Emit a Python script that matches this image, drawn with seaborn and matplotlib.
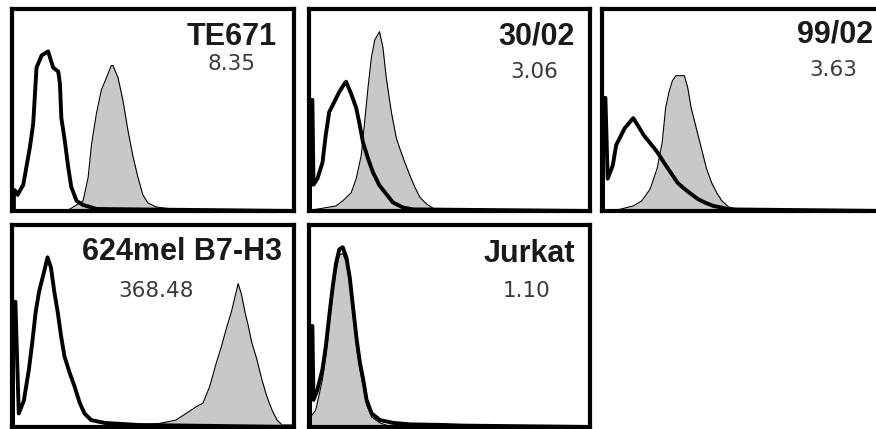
import matplotlib
matplotlib.use("Agg")
import matplotlib.pyplot as plt
import seaborn as sns

# --- DATA (x: % of log fluorescence range, y: % of max count) ---
names = ["TE671", "30/02", "99/02", "624mel B7-H3", "Jurkat"]
ratios = ["8.35", "3.06", "3.63", "368.48", "1.10"]

# isotype control (thick black outline)
te671_iso_x = [0, 1.2, 2, 4, 6.4, 7.5, 8.7, 10.5, 12.8, 14.6, 16.4, 17, 17.5, 18.7, 19.9, 21, 22.9, 25.2, 30, 100]
te671_iso_y = [11, 10, 8, 13, 32, 43, 71, 77, 79, 71, 69, 63, 46, 35, 22, 12, 5, 3, 1, 0]
p3002_iso_x = [0, 1.2, 1.6, 3, 4.8, 6, 7.2, 9, 10.8, 12.6, 13.2, 15, 16.8, 18, 19.2, 21, 22.8, 25.1, 27.5, 29.9, 33.5, 37.1, 100]
p3002_iso_y = [55, 55, 13, 16, 24, 38, 49, 54, 59, 63, 64, 58, 51, 43, 34, 26, 19, 12.6, 8.4, 4.2, 1.7, 0.8, 0]
p9902_iso_x = [0, 1.2, 2, 3.8, 5, 6.2, 8, 9.8, 11, 12.8, 14.6, 17, 19.4, 21.8, 24.2, 26.6, 29, 31.4, 33.8, 36.2, 39.2, 42.2, 44.6, 100]
p9902_iso_y = [56, 56, 16, 22.6, 32.7, 36, 41, 44, 46, 42, 37.7, 33.5, 29.3, 24, 19, 14, 11, 8.4, 5.9, 4.2, 2.5, 1.7, 0.8, 0]
mel624_iso_x = [0, 1.2, 2.4, 4.2, 6, 7.2, 8.4, 9.6, 11.4, 12.6, 13.8, 15, 16.2, 17.4, 18.6, 20.4, 22.2, 24, 25.7, 28.1, 32.9, 45, 100]
mel624_iso_y = [62, 62, 6.7, 13, 28.6, 42, 57, 67, 77, 84, 79, 67, 57, 45, 35, 27, 20, 12, 6.7, 3.4, 2, 1, 0]
jurkat_iso_x = [0, 1.2, 1.6, 3, 4.8, 6, 7.2, 8.4, 9.6, 10.8, 12, 13.3, 14.5, 15.7, 16.9, 18.1, 19.3, 20.5, 22.3, 25.3, 30.1, 36.1, 48.2, 54.2, 100]
jurkat_iso_y = [50, 50, 13.4, 18.5, 28.6, 40, 55, 69, 81, 88, 89, 84, 74, 59, 44, 32, 23.5, 13.4, 6.7, 3.4, 2, 1.3, 1, 0.7, 0]

# specific staining (grey filled)
te671_st_x = [0, 20, 25.2, 27, 28.2, 29.9, 31.7, 33.5, 35.2, 35.8, 37.6, 39.3, 41.1, 42.9, 44.6, 46.4, 48.2, 51.1, 54.7, 61.7, 100]
te671_st_y = [0, 0.5, 5, 16.6, 33, 48, 60, 66, 72, 72, 66, 55, 40, 27, 17, 8, 4, 2, 1.3, 0.5, 0]
p3002_st_x = [0, 2.4, 9.6, 12, 15, 16.8, 18.6, 19.8, 21, 22.2, 23.4, 25.1, 26.3, 27.5, 29.3, 31.1, 32.3, 34.1, 35.9, 37.7, 39.5, 41.9, 44.3, 46.7, 100]
p3002_st_y = [0, 0.8, 2.5, 5, 9, 16, 27.6, 44, 61, 76, 84.6, 88.8, 81, 66, 49, 36, 31, 24, 17.6, 11.7, 6.7, 3.4, 1.2, 0.5, 0]
p9902_st_x = [0, 6.2, 11, 14, 17, 19.4, 21.2, 22.4, 23.6, 24.8, 26, 29, 30.2, 31.4, 33.2, 35, 36.8, 38.6, 40.4, 42.2, 44.6, 48.1, 51.7, 100]
p9902_st_y = [0, 0.8, 2.5, 5, 11, 21, 34, 51, 59, 64.5, 67, 67, 61, 51, 41, 31, 21, 14, 9, 5, 2, 0.8, 0.3, 0]
mel624_st_x = [0, 40, 52.1, 58.1, 61.7, 65.3, 67.7, 70.1, 72.5, 74.3, 76, 77.8, 79, 80.2, 81.4, 82.6, 83.8, 85, 86.8, 88.6, 90.4, 92.2, 94, 95.8, 100]
mel624_st_y = [0, 0.5, 1.7, 3.4, 6.7, 10, 11.8, 20, 32, 40, 48.7, 57, 64, 71, 65.5, 57, 50, 42, 33.6, 23.5, 15, 8.4, 3.4, 1, 1]
jurkat_st_x = [0, 0.6, 2.4, 4.8, 6, 7.2, 8.4, 9.6, 10.8, 12, 13.3, 14.5, 15.7, 16.9, 18.1, 19.3, 20.5, 22.3, 25.3, 27.7, 100]
jurkat_st_y = [0, 5, 8.4, 23.5, 35, 50, 65.5, 77, 85, 86, 81.5, 71, 55, 40, 28.6, 20, 11, 5, 2, 0.8, 0]

iso = [(te671_iso_x, te671_iso_y), (p3002_iso_x, p3002_iso_y), (p9902_iso_x, p9902_iso_y),
       (mel624_iso_x, mel624_iso_y), (jurkat_iso_x, jurkat_iso_y)]
stain = [(te671_st_x, te671_st_y), (p3002_st_x, p3002_st_y), (p9902_st_x, p9902_st_y),
         (mel624_st_x, mel624_st_y), (jurkat_st_x, jurkat_st_y)]

# --- LAYOUT (pixel boxes of the panel borders) ---
W, H = 876, 429
cols = [(12, 294), (309, 590), (602, 886)]
rows = [(9, 211), (225, 427)]
cells = [(0, 0), (0, 1), (0, 2), (1, 0), (1, 1)]
# text placement: (title x, title y, number x, number y) in axes fraction
text_pos = [(0.94, 0.822, 0.778, 0.698),
            (0.947, 0.822, 0.80, 0.658),
            (0.954, 0.832, 0.813, 0.668),
            (0.957, 0.827, 0.51, 0.644),
            (0.947, 0.817, 0.776, 0.644)]

sns.set_style("white")
fig = plt.figure(figsize=(W / 100, H / 100), dpi=100)

for i, (r, c) in enumerate(cells):
    l, rr = cols[c]
    t, b = rows[r]
    ax = fig.add_axes([l / W, 1 - b / H, (rr - l) / W, (b - t) / H])

    sx, sy = stain[i]
    ax.fill_between(sx, sy, 0, color="#c8c8c8", lw=0)
    sns.lineplot(x=sx, y=sy, ax=ax, color="black", lw=0.8, sort=False, estimator=None)
    ix, iy = iso[i]
    # first channel spike drawn as a solid block
    ax.fill_between(ix[:2], iy[:2], 0, color="black", lw=0)
    sns.lineplot(x=ix, y=iy, ax=ax, color="black", lw=2.8, sort=False, estimator=None)

    ax.set_xlim(0, 100)
    ax.set_ylim(0, 100)
    ax.set_xticks([])
    ax.set_yticks([])
    ax.set_xlabel("")
    ax.set_ylabel("")
    for sp in ax.spines.values():
        sp.set_visible(True)
        sp.set_color("black")
        sp.set_linewidth(3)

    tx, ty, nx, ny = text_pos[i]
    ax.text(tx, ty, names[i], transform=ax.transAxes, ha="right", va="baseline",
            fontsize=22, fontweight="bold", family=["Liberation Sans", "DejaVu Sans"],
            color="#1a1a1a")
    ax.text(nx, ny, ratios[i], transform=ax.transAxes, ha="center", va="baseline",
            fontsize=15.5, family=["DejaVu Sans"], color="#3a3a3a")

fig.savefig("out.png", dpi=100)
